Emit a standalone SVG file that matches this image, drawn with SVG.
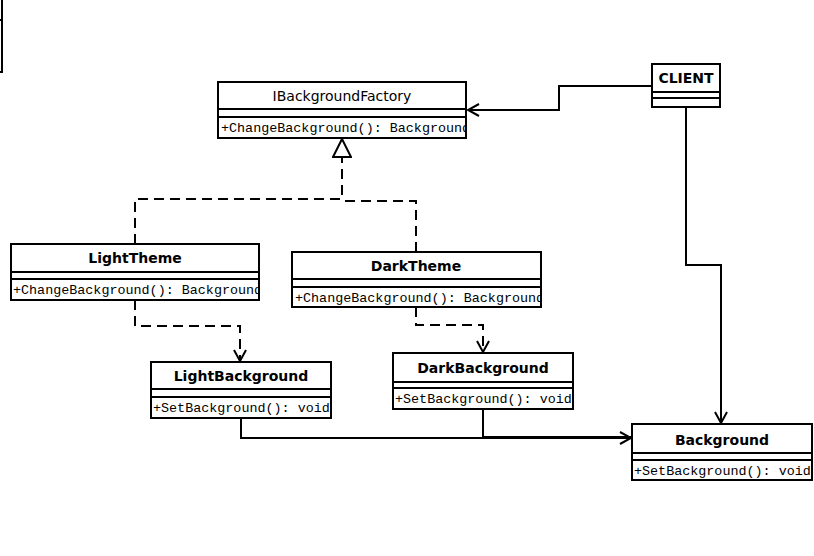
<svg xmlns="http://www.w3.org/2000/svg" width="814" height="556" viewBox="0 0 814 556">
<style>
.box{fill:#fff;stroke:#000;stroke-width:2}
.ln{stroke:#000;stroke-width:2;fill:none}
.dash{stroke:#000;stroke-width:2;fill:none;stroke-dasharray:10,6}
.t{font-family:"DejaVu Sans",Verdana,sans-serif;font-size:14px;text-anchor:middle}
.tb{font-family:"DejaVu Sans",Verdana,sans-serif;font-size:14px;font-weight:bold;text-anchor:middle}
.m{font-family:"Liberation Mono","Courier New",monospace;font-size:13.4px}
</style>
<defs>
<marker id="open" markerWidth="14" markerHeight="14" refX="12" refY="7" orient="auto" markerUnits="userSpaceOnUse">
<path d="M1,1 L12,7 L1,13" fill="none" stroke="#000" stroke-width="2"/>
</marker>
<marker id="tri" markerWidth="22" markerHeight="20" refX="19" refY="10" orient="auto" markerUnits="userSpaceOnUse">
<path d="M1,1 L19,10 L1,19 Z" fill="#fff" stroke="#000" stroke-width="2"/>
</marker>
<clipPath id="c1"><rect x="218" y="117" width="248" height="21"/></clipPath>
<clipPath id="c2"><rect x="11" y="279" width="248" height="21"/></clipPath>
<clipPath id="c3"><rect x="292" y="287" width="249" height="20"/></clipPath>
<clipPath id="c4"><rect x="151" y="397" width="180" height="21"/></clipPath>
<clipPath id="c5"><rect x="393" y="388" width="180" height="21"/></clipPath>
<clipPath id="c6"><rect x="632" y="460" width="180" height="20"/></clipPath>
</defs>

<g id="fragment">
<path class="ln" d="M-10,20 L2,20 M2,-2 L2,72 L-10,72"/>
</g>

<g id="connectors">
<path class="ln" d="M651,86 L559,86 L559,110 L468,110" marker-end="url(#open)"/>
<path class="ln" d="M686,107 L686,265 L721,265 L721,423" marker-end="url(#open)"/>
<path class="dash" d="M135,244 L135,199 L342,199 L342,139" marker-end="url(#tri)"/>
<path class="dash" d="M416,252 L416,201 L342,201"/>
<path class="dash" d="M135,300 L135,326 L240,326 L240,361" marker-end="url(#open)"/>
<path class="dash" d="M416,307 L416,325 L483,325 L483,352" marker-end="url(#open)"/>
<path class="ln" d="M241,418 L241,438 L631,438" marker-end="url(#open)"/>
<path class="ln" d="M483,409 L483,437 L631,437"/>
</g>

<g id="IBackgroundFactory">
<rect class="box" x="218" y="82" width="248" height="56"/>
<line class="ln" x1="218" y1="109" x2="466" y2="109"/>
<line class="ln" x1="218" y1="117" x2="466" y2="117"/>
<text class="t" x="342" y="101">IBackgroundFactory</text>
<text class="m" x="221" y="132" clip-path="url(#c1)">+ChangeBackground(): Background</text>
</g>

<g id="CLIENT">
<rect class="box" x="652" y="64" width="68" height="43"/>
<line class="ln" x1="652" y1="92" x2="720" y2="92"/>
<line class="ln" x1="652" y1="98" x2="720" y2="98"/>
<text class="tb" x="686" y="83">CLIENT</text>
</g>

<g id="LightTheme">
<rect class="box" x="11" y="244" width="248" height="56"/>
<line class="ln" x1="11" y1="272" x2="259" y2="272"/>
<line class="ln" x1="11" y1="279" x2="259" y2="279"/>
<text class="tb" x="135" y="263">LightTheme</text>
<text class="m" x="13" y="294" clip-path="url(#c2)">+ChangeBackground(): Background</text>
</g>

<g id="DarkTheme">
<rect class="box" x="292" y="252" width="249" height="55"/>
<line class="ln" x1="292" y1="279" x2="541" y2="279"/>
<line class="ln" x1="292" y1="287" x2="541" y2="287"/>
<text class="tb" x="416" y="271">DarkTheme</text>
<text class="m" x="295" y="302" clip-path="url(#c3)">+ChangeBackground(): Background</text>
</g>

<g id="LightBackground">
<rect class="box" x="151" y="362" width="180" height="56"/>
<line class="ln" x1="151" y1="389" x2="331" y2="389"/>
<line class="ln" x1="151" y1="397" x2="331" y2="397"/>
<text class="tb" x="241" y="381">LightBackground</text>
<text class="m" x="153" y="412" clip-path="url(#c4)">+SetBackground(): void</text>
</g>

<g id="DarkBackground">
<rect class="box" x="393" y="353" width="180" height="56"/>
<line class="ln" x1="393" y1="382" x2="573" y2="382"/>
<line class="ln" x1="393" y1="388" x2="573" y2="388"/>
<text class="tb" x="483" y="373">DarkBackground</text>
<text class="m" x="395" y="403" clip-path="url(#c5)">+SetBackground(): void</text>
</g>

<g id="Background">
<rect class="box" x="632" y="424" width="180" height="56"/>
<line class="ln" x1="632" y1="453" x2="812" y2="453"/>
<line class="ln" x1="632" y1="460" x2="812" y2="460"/>
<text class="tb" x="722" y="445">Background</text>
<text class="m" x="634" y="475" clip-path="url(#c6)">+SetBackground(): void</text>
</g>
</svg>
